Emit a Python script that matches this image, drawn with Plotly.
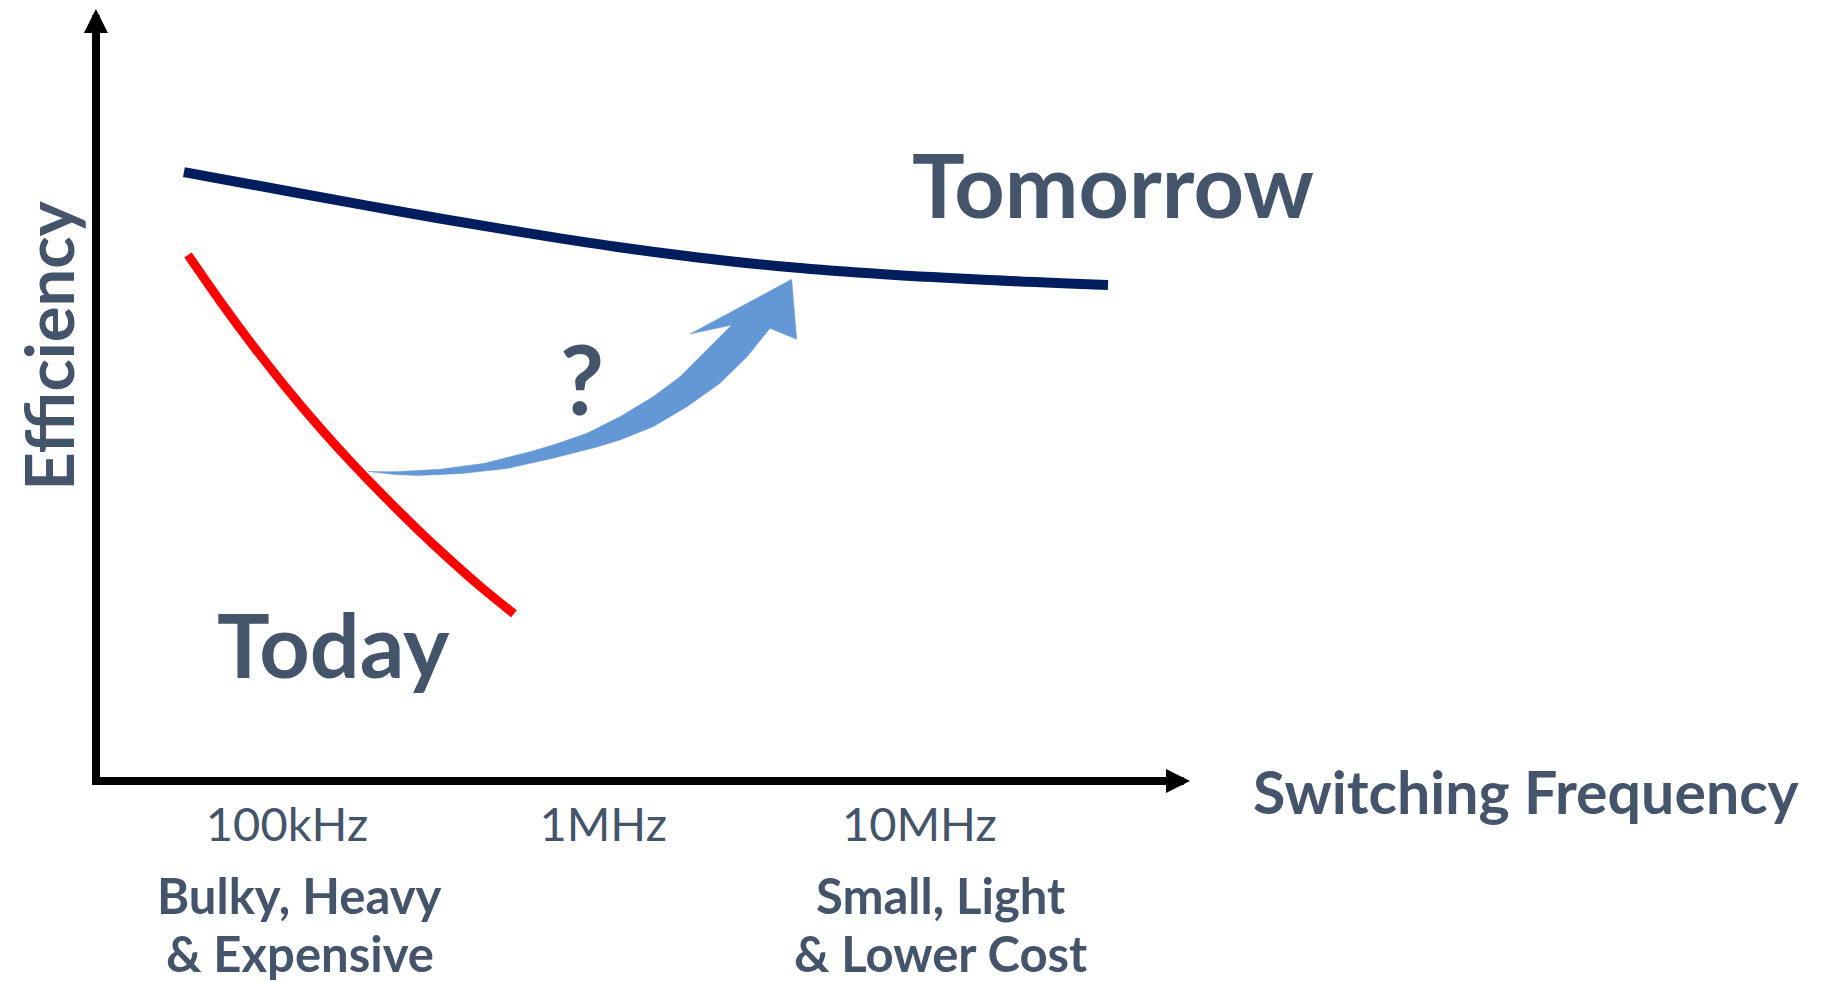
import plotly.graph_objects as go

# ---- data (switching frequency in Hz, efficiency in relative units 0-100) ----
tomorrow_freq = [47.2e3, 102.96e3, 239.7e3, 557.8e3, 1.098e6,
                 1.995e6, 3.928e6, 7.733e6, 16.62e6, 39.53e6]
tomorrow_eff = [81.30, 78.67, 75.87, 73.24, 71.32,
                69.89, 68.58, 67.65, 66.88, 66.23]

today_freq = [48.63e3, 61.66e3, 78.17e3, 99.13e3, 125.7e3, 159.4e3,
              202.1e3, 256.3e3, 324.9e3, 412.0e3, 522.4e3]
today_eff = [70.23, 63.98, 58.09, 52.56, 47.40, 42.59,
             38.06, 33.76, 29.69, 25.85, 22.32]

# outline of the curved "improvement" arrow (lower edge, head, upper edge)
arrow_freq = [180.4e3, 219.6e3, 259.7e3, 357.7e3, 496.4e3, 689.0e3, 956.1e3,
              1.1306e6, 1.438e6, 1.842e6, 2.342e6, 2.851e6, 3.372e6,
              4.093e6, 3.947e6, 1.883e6, 2.550e6,
              2.131e6, 1.750e6, 1.438e6, 1.1306e6, 889.0e3, 694.1e3, 587.0e3,
              423.0e3, 304.8e3, 219.6e3, 180.4e3]
arrow_eff = [41.32, 40.92, 40.79, 41.05, 41.72, 43.06, 44.59,
             45.53, 47.30, 49.97, 53.10, 56.65, 60.44,
             58.97, 66.98, 59.68, 60.88,
             57.54, 53.98, 51.31, 48.64, 46.42, 44.86, 43.97,
             42.42, 41.62, 41.30, 41.32]

tick_vals = [1e5, 1e6, 1e7]
tick_text = ["100kHz", "1MHz", "10MHz"]

TEXT = "#44546A"
FONT = "Lato"

fig = go.Figure()
fig.add_trace(go.Scatter(x=arrow_freq, y=arrow_eff, mode="lines", fill="toself",
                         fillcolor="#6497D5", line=dict(width=0.5, color="#6497D5"),
                         hoverinfo="skip", showlegend=False))
fig.add_trace(go.Scatter(x=tomorrow_freq, y=tomorrow_eff, mode="lines",
                         line=dict(color="#001E5E", width=10, shape="spline"),
                         name="Tomorrow", showlegend=False))
fig.add_trace(go.Scatter(x=today_freq, y=today_eff, mode="lines",
                         line=dict(color="#FF0000", width=9, shape="spline"),
                         name="Today", showlegend=False))

ann = []
def txt(text, x, y, size, bold=True, angle=0):
    ann.append(dict(text=text, xref="paper", yref="paper", x=x, y=y,
                    xanchor="center", yanchor="middle", showarrow=False,
                    textangle=angle,
                    font=dict(family=FONT, size=size, color=TEXT,
                              weight=700 if bold else 400)))

txt("Tomorrow", 0.9502, 0.7960, 88)
txt("Today", 0.2195, 0.1782, 88)
txt("?", 0.4522, 0.5367, 96)
txt("Efficiency", -0.0490, 0.5785, 67, angle=-90)
txt("Switching Frequency", 1.3382, -0.0188, 59)
txt("Bulky, Heavy", 0.1876, -0.1584, 49)
txt("&amp; Expensive", 0.1876, -0.2362, 49)
txt("Small, Light", 0.7885, -0.1584, 49)
txt("&amp; Lower Cost", 0.7885, -0.2362, 49)

# axis arrow heads
ann.append(dict(xref="paper", yref="paper", x=1.0225, y=-0.0054, ax=-40, ay=0,
                text="", showarrow=True, arrowhead=2, arrowwidth=8,
                arrowsize=0.6, arrowcolor="black"))
ann.append(dict(xref="paper", yref="paper", x=-0.0038, y=1.0329, ax=0, ay=40,
                text="", showarrow=True, arrowhead=2, arrowwidth=8,
                arrowsize=0.6, arrowcolor="black"))

fig.update_layout(
    width=1816, height=975,
    margin=dict(l=92, r=658, t=24, b=206),
    paper_bgcolor="white", plot_bgcolor="white",
    annotations=ann,
    xaxis=dict(type="log", range=[4.4085, 7.7803], showline=True, linewidth=8,
               linecolor="black", showgrid=False, zeroline=False,
               tickvals=tick_vals, ticktext=tick_text, ticks="",
               ticklabelstandoff=0,
               tickfont=dict(family=FONT, size=47, color=TEXT)),
    yaxis=dict(range=[0.534, 100], showline=True, linewidth=8,
               linecolor="black", showgrid=False, zeroline=False,
               showticklabels=False, ticks=""),
)

fig.write_html("out.html")
